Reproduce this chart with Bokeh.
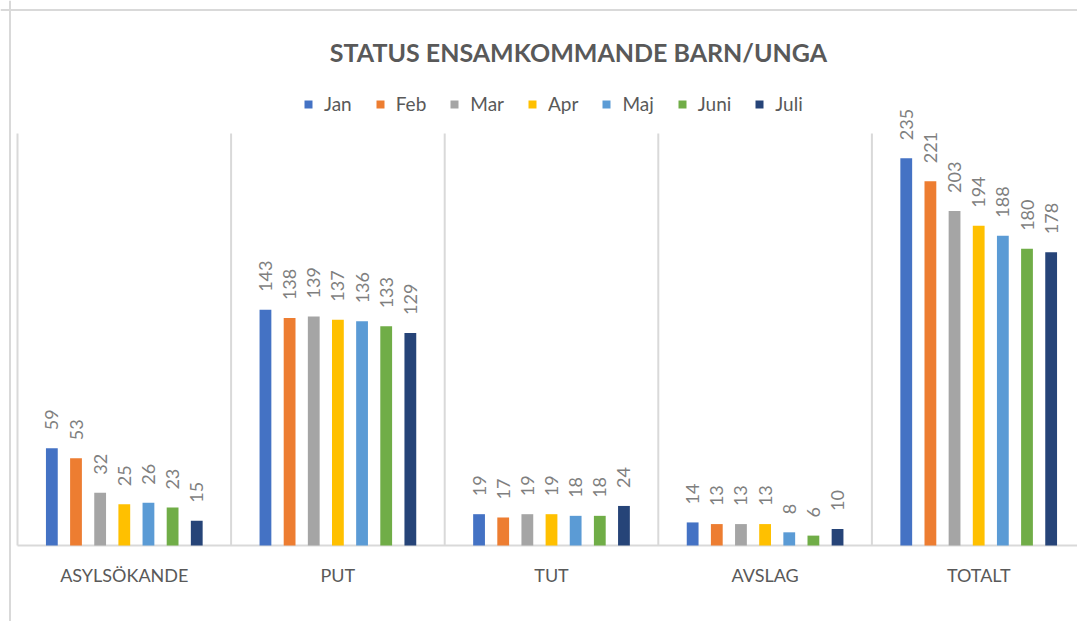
import math
from bokeh.plotting import figure
from bokeh.models import Range1d, Legend, LegendItem, Label, Span
from bokeh.core.properties import value
from bokeh.embed import file_html
from bokeh.resources import INLINE

# ---- data ----
categories = ["ASYLSÖKANDE", "PUT", "TUT", "AVSLAG", "TOTALT"]
months = ["Jan", "Feb", "Mar", "Apr", "Maj", "Juni", "Juli"]
jan = [59, 143, 19, 14, 235]
feb = [53, 138, 17, 13, 221]
mar = [32, 139, 19, 13, 203]
apr = [25, 137, 19, 13, 194]
maj = [26, 136, 18, 8, 188]
juni = [23, 133, 18, 6, 180]
juli = [15, 129, 24, 10, 178]
series = [jan, feb, mar, apr, maj, juni, juli]
colors = ["#4472C4", "#ED7D31", "#A5A5A5", "#FFC000", "#5B9BD5", "#70AD47", "#264478"]
title_text = "STATUS ENSAMKOMMANDE BARN/UNGA"

# ---- geometry (pixels inside the figure) ----
W, H = 1077, 621
left_px = 17.0         # start of category axis
cat_px = 213.6         # width of one category
base_px = 545.0        # baseline distance from figure top
top_px = 133.0         # plot area top
ymax = 250.0
unit = (base_px - top_px) / ymax

x_start = -left_px / cat_px
x_end = (W - left_px) / cat_px
y_start = -(H - base_px) / unit
y_end = base_px / unit

p = figure(width=W, height=H, x_range=Range1d(x_start, x_end), y_range=Range1d(y_start, y_end),
           output_backend="svg", toolbar_location=None, min_border=0,
           x_axis_type=None, y_axis_type=None)
p.grid.visible = False
p.outline_line_color = None
p.background_fill_color = "white"
p.border_fill_color = "white"

GRID = "#D9D9D9"
TXT = "#595959"
FONT = "Lato"

# chart border (left and top)
p.add_layout(Span(location=x_start + 9.5 / cat_px, dimension="height", line_color=GRID, line_width=2))
p.add_layout(Span(location=y_end - 9.5 / unit, dimension="width", line_color=GRID, line_width=2))

# category separators and baseline
bounds = list(range(len(categories) + 1))
p.segment(x0=bounds, y0=[0] * len(bounds), x1=bounds, y1=[ymax] * len(bounds),
          line_color=GRID, line_width=2)
p.segment(x0=[0], y0=[0], x1=[x_end], y1=[0], line_color=GRID, line_width=2)

step = 24.15 / cat_px
bar_w = 11.8 / cat_px
items = []
for j, (m, vals, c) in enumerate(zip(months, series, colors)):
    xs = [i + 0.5 + (j - 3) * step for i in range(len(categories))]
    r = p.vbar(x=xs, top=vals, bottom=0, width=bar_w, fill_color=c, line_color=None)
    p.text(x=xs, y=vals, text=[str(v) for v in vals], angle=math.pi / 2,
           text_align="left", text_baseline="middle", y_offset=-18,
           text_font=value(FONT), text_font_size="18px", text_color="#7F7F7F")
    items.append(LegendItem(label=m, renderers=[r]))

# category labels
p.text(x=[i + 0.5 for i in range(len(categories))], y=[0] * len(categories), text=categories,
       y_offset=29, text_align="center", text_baseline="middle",
       text_font=value(FONT), text_font_size="18px", text_color=TXT)

legend = Legend(items=items, orientation="horizontal", location=(303, 506),
                glyph_width=10, glyph_height=10, label_standoff=11, spacing=23,
                padding=0, margin=0, border_line_color=None, background_fill_alpha=0,
                label_text_font=FONT, label_text_font_size="19px", label_text_color=TXT,
                label_height=20, label_text_baseline="middle")
p.add_layout(legend)

p.add_layout(Label(x=578, y=H - 51, x_units="screen", y_units="screen", text=title_text,
                   text_align="center", text_baseline="middle", text_font=FONT,
                   text_font_size="25px", text_font_style="bold", text_color=TXT))

open("out.html", "w").write(file_html(p, INLINE))
